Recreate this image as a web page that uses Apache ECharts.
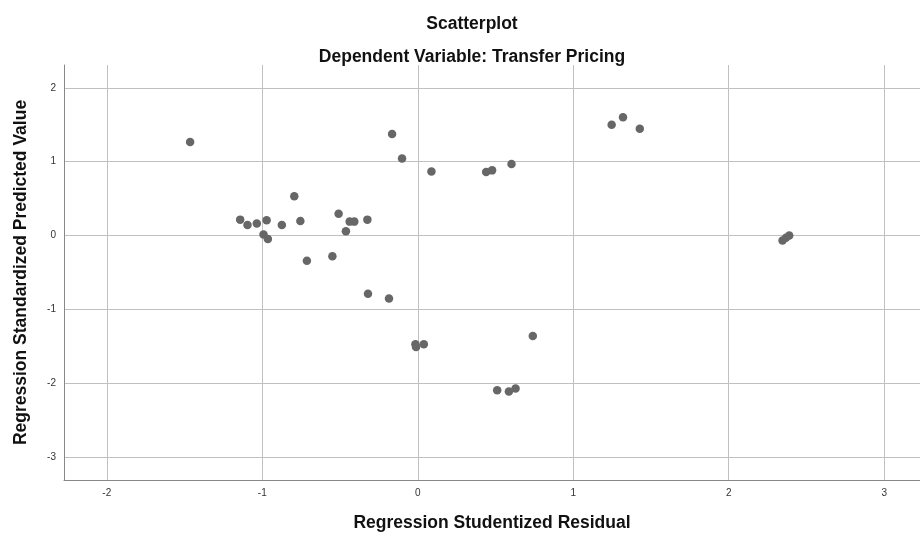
<!DOCTYPE html>
<html>
<head>
<meta charset="utf-8">
<script src="https://cdn.jsdelivr.net/npm/echarts@6/dist/echarts.min.js"></script>
<style>html,body{margin:0;padding:0;background:#fff;overflow:hidden}#c{width:920px;height:537px}</style>
</head>
<body>
<div id="c"></div>
<script>
var residuals = [-1.464, -0.165, -0.101, 0.088, 0.440, 0.478, 0.603, 1.247, 1.320, 1.428,
  -0.794, -1.142, -1.095, -1.035, -0.972, -0.874, -0.755, -0.992, -0.964, -0.509,
  -0.438, -0.408, -0.324, -0.462, -0.713, -0.549, -0.320, -0.185, -0.015, -0.011,
  0.039, 0.740, 0.511, 0.586, 0.629, 2.346, 2.368, 2.389];
var predicted = [1.266, 1.374, 1.045, 0.869, 0.861, 0.883, 0.969, 1.500, 1.604, 1.446,
  0.531, 0.216, 0.144, 0.162, 0.207, 0.144, 0.198, 0.014, -0.045, 0.297,
  0.189, 0.189, 0.216, 0.058, -0.342, -0.279, -0.788, -0.851, -1.473, -1.509,
  -1.473, -1.360, -2.095, -2.112, -2.072, -0.068, -0.031, 0.000];
var xTicks = [-2, -1, 0, 1, 2, 3];
var yTicks = [-3, -2, -1, 0, 1, 2];
var titleText = 'Scatterplot';
var subtitleText = 'Dependent Variable: Transfer Pricing';
var xName = 'Regression Studentized Residual';
var yName = 'Regression Standardized Predicted Value';

var points = residuals.map(function (x, i) { return [x, predicted[i]]; });
var chart = echarts.init(document.getElementById('c'));
var font = '"Liberation Sans", Arial, sans-serif';
chart.setOption({
  animation: false,
  backgroundColor: '#fff',
  title: [
    { text: titleText, left: 467, top: 10, textAlign: 'center',
      textStyle: { fontFamily: font, fontSize: 17.5, fontWeight: 'bold', color: '#111' } },
    { text: subtitleText, left: 467, top: 43, textAlign: 'center',
      textStyle: { fontFamily: font, fontSize: 17.5, fontWeight: 'bold', color: '#111' } }
  ],
  grid: { left: 64, right: 0, top: 65, bottom: 56 },
  xAxis: {
    type: 'value', min: -2.275, max: 3.23,
    name: xName, nameLocation: 'middle', nameGap: 34,
    nameTextStyle: { fontFamily: font, fontSize: 17.5, fontWeight: 'bold', color: '#111' },
    axisLine: { show: true, onZero: false, lineStyle: { color: '#888', width: 1 } },
    axisTick: { show: false, customValues: xTicks },
    axisLabel: { customValues: xTicks, fontFamily: font, fontSize: 10, color: '#333', margin: 8 },
    splitLine: { show: true, lineStyle: { color: '#c0c0c0', width: 1 } }
  },
  yAxis: {
    type: 'value', min: -3.31, max: 2.31,
    name: yName, nameLocation: 'middle', nameGap: 34, nameRotate: 90,
    nameTextStyle: { fontFamily: font, fontSize: 17.5, fontWeight: 'bold', color: '#111' },
    axisLine: { show: true, onZero: false, lineStyle: { color: '#888', width: 1 } },
    axisTick: { show: false, customValues: yTicks },
    axisLabel: { customValues: yTicks, fontFamily: font, fontSize: 10, color: '#333', margin: 8 },
    splitLine: { show: true, lineStyle: { color: '#c0c0c0', width: 1 } }
  },
  series: [{
    type: 'scatter', data: points, symbol: 'circle', symbolSize: 8.5,
    itemStyle: { color: '#676767', opacity: 1 }
  }]
});
</script>
</body>
</html>
